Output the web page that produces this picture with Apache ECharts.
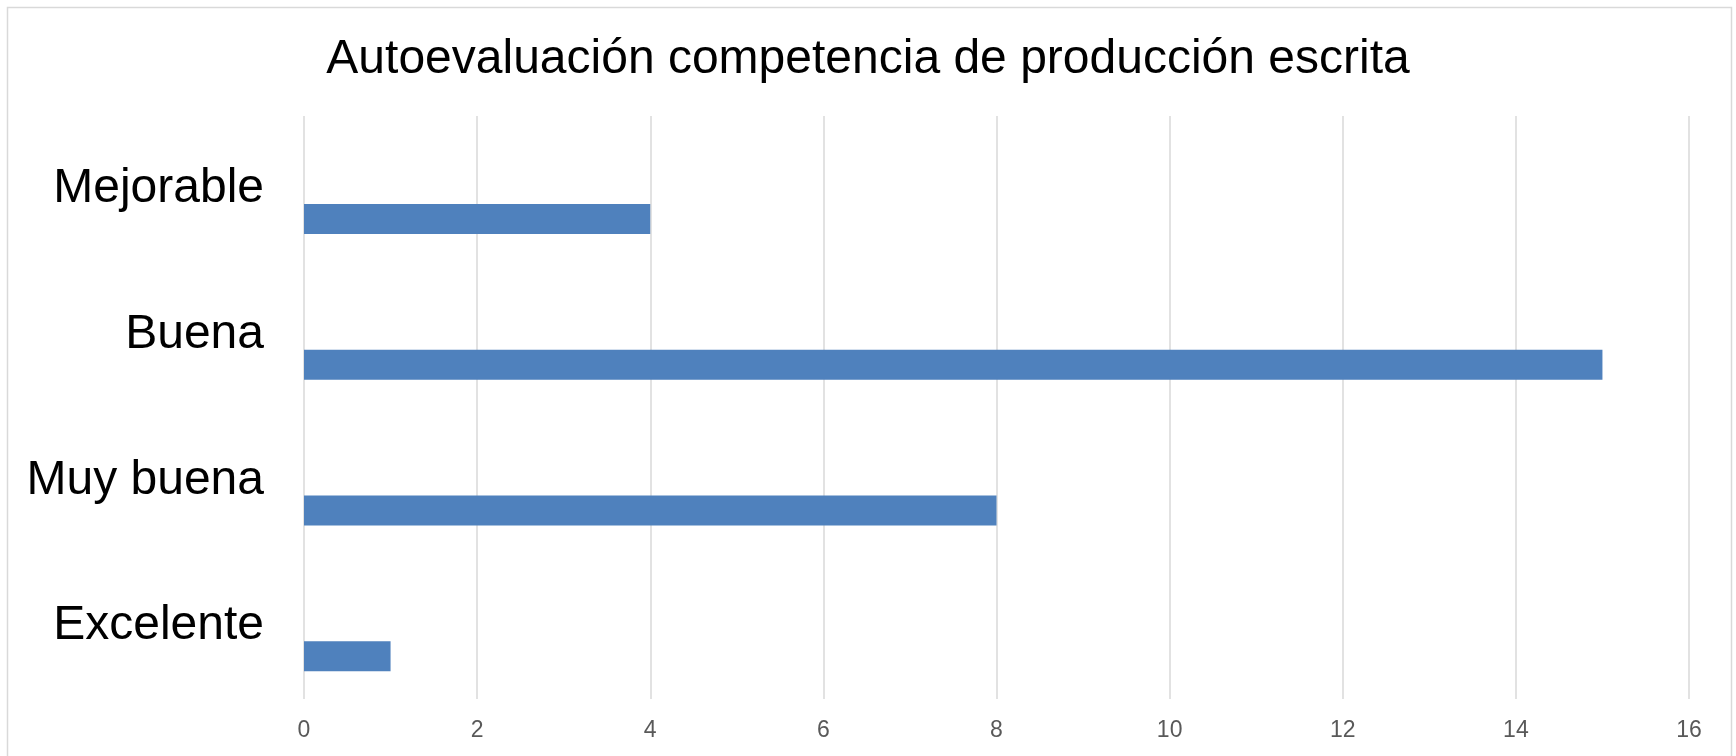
<!DOCTYPE html>
<html>
<head>
<meta charset="utf-8">
<script src="https://cdn.jsdelivr.net/npm/echarts@6/dist/echarts.min.js"></script>
<style>
  html, body { margin: 0; padding: 0; background: #ffffff; }
  #chart { width: 1736px; height: 756px; }
</style>
</head>
<body>
<div id="chart"></div>
<script>
const chartTitle = 'Autoevaluación competencia de producción escrita';
const categories = ['Mejorable', 'Buena', 'Muy buena', 'Excelente'];
const values = [4, 15, 8, 1];
const emptySeries = [null, null, null, null];
const xMin = 0, xMax = 16, xStep = 2;

const chart = echarts.init(document.getElementById('chart'), null, { renderer: 'canvas' });
const font = '"Liberation Sans", Arial, sans-serif';

chart.setOption({
  backgroundColor: '#ffffff',
  animation: false,
  title: {
    text: chartTitle,
    left: 'center',
    top: 31,
    textStyle: { fontFamily: font, fontSize: 48, fontWeight: 'normal', color: '#000000' }
  },
  graphic: [{
    type: 'rect',
    shape: { x: 7.5, y: 7.5, width: 1724, height: 800 },
    style: { fill: 'none', stroke: '#d9d9d9', lineWidth: 1.5 },
    silent: true
  }],
  grid: { left: 304, right: 47, top: 116, bottom: 57, containLabel: false },
  xAxis: {
    type: 'value',
    min: xMin, max: xMax, interval: xStep,
    axisLine: { show: false },
    axisTick: { show: false },
    axisLabel: { fontFamily: font, fontSize: 23, color: '#595959', margin: 20 },
    splitLine: { show: true, lineStyle: { color: '#d9d9d9', width: 1.5 } }
  },
  yAxis: {
    type: 'category',
    data: categories,
    inverse: true,
    axisLine: { show: false },
    axisTick: { show: false },
    axisLabel: { fontFamily: font, fontSize: 48, color: '#000000', margin: 40, padding: [10, 0, 0, 0] },
    splitLine: { show: false }
  },
  series: [
    { type: 'bar', name: 'vacía 1', data: emptySeries, barWidth: 30, barGap: '0%' },
    { type: 'bar', name: 'vacía 2', data: emptySeries, barWidth: 30, barGap: '0%' },
    { type: 'bar', name: 'Autoevaluación', data: values, barWidth: 30, barGap: '0%',
      itemStyle: { color: '#4f81bd' } }
  ]
});
</script>
</body>
</html>
